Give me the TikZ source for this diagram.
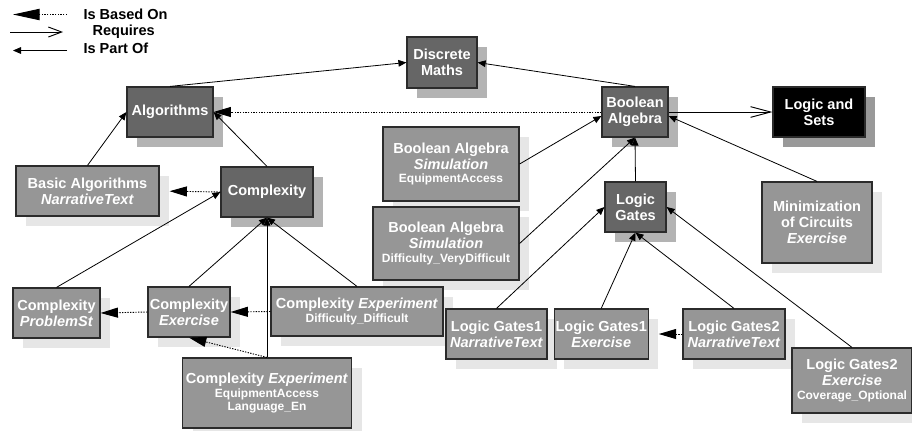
\documentclass[tikz,border=0pt]{standalone}
\usepackage{fontspec}
\setmainfont{Liberation Sans}
\usetikzlibrary{positioning,arrows.meta,shadows}
\definecolor{topicfill}{HTML}{666666}
\definecolor{topicshade}{HTML}{B3B3B3}
\definecolor{resfill}{HTML}{969696}
\definecolor{resshade}{HTML}{E6E6E6}
\definecolor{rootshade}{HTML}{999999}
\definecolor{boxink}{HTML}{2B2B2B}
\newcommand{\subtxt}[1]{{\fontsize{9}{10.5}\selectfont #1}}
\tikzset{
  every node/.style={font=\fontsize{10.9}{12}\selectfont\bfseries, align=center, inner sep=1pt},
  topic/.style={draw=boxink, fill=topicfill, text=white, line width=0.9pt, minimum height=37.5pt,
    drop shadow={fill=topicshade, opacity=1, shadow xshift=7.5pt, shadow yshift=-7.5pt}},
  rootbox/.style={topic, fill=black, drop shadow={fill=rootshade, opacity=1, shadow xshift=7.5pt, shadow yshift=-7.5pt}},
  res/.style={draw=boxink, fill=resfill, text=white, line width=0.9pt, minimum height=37.5pt,
    drop shadow={fill=resshade, opacity=1, shadow xshift=7.5pt, shadow yshift=-7.5pt}},
  keytxt/.style={text=black, anchor=west},
  partof/.style={-{Triangle[length=6pt,width=5pt]}, line width=0.6pt, draw=black},
  based/.style={-{Triangle[length=13pt,width=7.5pt]}, line width=0.7pt, dash pattern=on 1pt off 1pt, draw=black},
  requires/.style={-{Straight Barb[length=15pt,width=8pt]}, line width=0.7pt, draw=black},
}
\begin{document}
\begin{tikzpicture}[x=0.75pt,y=-0.75pt]
  \useasboundingbox (0,0) rectangle (912,430);

  % legend
  \node[keytxt] (kbased) at (82,14.5) {Is Based On};
  \node[keytxt] (kreq) at (91,32) {Requires};
  \node[keytxt] (kpart) at (82,48) {Is Part Of};
  \coordinate (kb0) at (67,14.5); \coordinate (kb1) at (13,14.5);
  \coordinate (kr0) at (10,32); \coordinate (kr1) at (63,32);
  \coordinate (kp0) at (67,50.5); \coordinate (kp1) at (13,50.5);
  \draw[based, -{Triangle[length=20pt,width=8.5pt]}] (kb0) -- (kb1);
  \draw[requires, -{Straight Barb[length=10pt,width=7.5pt]}] (kr0) -- (kr1);
  \draw[partof] (kp0) -- (kp1);

  % topics
  \node[topic, minimum width=52.5pt, minimum height=38.25pt] (dm) at (442,62.5) {Discrete\\Maths};
  \node[topic, minimum width=64.5pt] (alg) at (170,112) {Algorithms};
  \node[topic, minimum width=69pt] (cx) at (267,192) {Complexity};
  \node[topic, minimum width=49.5pt] (ba) at (635,112) {Boolean\\Algebra};
  \node[rootbox, minimum width=69pt] (ls) at (819,112) {Logic and\\Sets};
  \node[topic, minimum width=45.75pt] (lg) at (635.5,207) {Logic\\Gates};

  % resources
  \node[res, minimum width=107.25pt] (basic) at (87.5,191) {Basic Algorithms\\\textit{NarrativeText}};
  \node[res, minimum width=82.5pt, minimum height=60.75pt] (mini) at (817,222.5) {Minimization\\of Circuits\\\textit{Exercise}};
  \node[res, minimum width=102pt, minimum height=55.5pt] (bs1) at (451,164) {Boolean Algebra\\\textit{Simulation}\\[-2pt]\subtxt{EquipmentAccess}};
  \node[res, minimum width=109.5pt, minimum height=54.75pt] (bs2) at (446,243.5) {Boolean Algebra\\\textit{Simulation}\\[-2pt]\subtxt{Difficulty\_VeryDifficult}};
  \node[res, minimum width=65.25pt] (cps) at (56.5,313) {Complexity\\\textit{ProblemSt}};
  \node[res, minimum width=61.5pt] (cex) at (189,312) {Complexity\\\textit{Exercise}};
  \node[res, minimum width=129pt, minimum height=36.75pt] (cxp1) at (357,311.5) {Complexity \textit{Experiment}\\[-2pt]\subtxt{Difficulty\_Difficult}};
  \node[res, minimum width=126.75pt, minimum height=52.5pt] (cxp2) at (267,393) {Complexity \textit{Experiment}\\[-2pt]\subtxt{EquipmentAccess}\\[-2pt]\subtxt{Language\_En}};
  \node[res, minimum width=75.75pt] (lg1n) at (496.5,334) {Logic Gates1\\\textit{NarrativeText}};
  \node[res, minimum width=70.5pt, right=4.5pt of lg1n] (lg1e) {Logic Gates1\\\textit{Exercise}};
  \node[res, minimum width=76.5pt] (lg2n) at (734,334) {Logic Gates2\\\textit{NarrativeText}};
  \node[res, minimum width=90pt, minimum height=48.75pt] (lg2e) at (852,380.5) {Logic Gates2\\\textit{Exercise}\\[-2pt]\subtxt{Coverage\_Optional}};

  \draw[partof] (alg.north) -- (dm.west);
  \draw[partof] (ba.north) -- (dm.east);
  \draw[based] (ba.west) -- (alg.east);
  \draw[requires] (ba.east) -- (ls.west);
  \draw[partof] (mini.north) -- ([yshift=-3pt]ba.east);
  \draw[partof] (basic.north) -- (alg.west);
  \draw[partof] (cx.north) -- (alg.east);
  \draw[based, shorten >=7.5pt] (cx.west) -- (basic.east);

  \draw[partof] (cps.north) -- (cx.west);
  \draw[partof] (cex.north) -- (cx.south);
  \draw[partof] (cxp2.north) -- (cx.south);
  \draw[partof] (cxp1.north) -- (cx.south);
  \draw[based] (cex.west) -- (cps.east);
  \draw[based] (cxp1.west) -- (cex.east);
  \draw[based] (cxp2.north) -- (cex.south);

  \draw[partof] (bs1.east) -- ([yshift=-3pt]ba.west);
  \draw[partof] (bs2.east) -- (ba.south);
  \draw[partof] (lg.north) -- (ba.south);
  \draw[partof] (lg1n.north) -- (lg.west);
  \draw[partof] (lg1e.north) -- (lg.south);
  \draw[partof] (lg2n.north) -- (lg.south);
  \draw[partof] (lg2e.north) -- (lg.east);
  \draw[based, shorten >=7.5pt] (lg2n.west) -- (lg1e.east);
\end{tikzpicture}
\end{document}
